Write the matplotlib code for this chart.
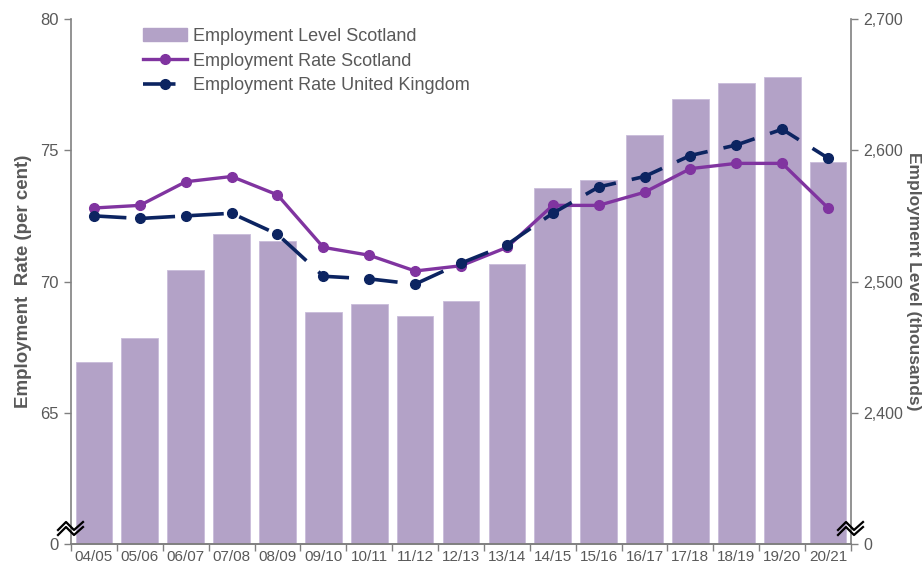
import matplotlib
matplotlib.use("Agg")
import matplotlib.pyplot as plt
from matplotlib.lines import Line2D
from matplotlib.patches import Patch
import numpy as np

plt.rcParams['font.family'] = ['Liberation Sans', 'DejaVu Sans']

years = ["04/05", "05/06", "06/07", "07/08", "08/09", "09/10", "10/11", "11/12", "12/13",
         "13/14", "14/15", "15/16", "16/17", "17/18", "18/19", "19/20", "20/21"]
level_scotland = [2439, 2457, 2509, 2536, 2531, 2477, 2483, 2474, 2485,
                  2513, 2571, 2577, 2612, 2639, 2651, 2656, 2591]
rate_scotland = [72.8, 72.9, 73.8, 74.0, 73.3, 71.3, 71.0, 70.4, 70.6,
                 71.3, 72.9, 72.9, 73.4, 74.3, 74.5, 74.5, 72.8]
rate_uk = [72.5, 72.4, 72.5, 72.6, 71.8, 70.2, 70.1, 69.9, 70.7,
           71.4, 72.6, 73.6, 74.0, 74.8, 75.2, 75.8, 74.7]

left_ticks = [60, 65, 70, 75, 80]
left_ticklabels = ["0", "65", "70", "75", "80"]
right_ticks = [2300, 2400, 2500, 2600, 2700]
right_ticklabels = ["0", "2,400", "2,500", "2,600", "2,700"]

bar_color = "#B3A2C7"
scot_color = "#8034A0"
uk_color = "#0C2461"
text_color = "#595959"
spine_color = "#808080"

fig = plt.figure(figsize=(9.24, 5.68), dpi=100)
axL = fig.add_axes([71/924, 1-544/568, (851-71)/924, (544-19)/568])
axR = axL.twinx()

x = np.arange(len(years))
axR.bar(x, np.array(level_scotland) - 2300, bottom=2300, width=0.8, color=bar_color,
        edgecolor="#C9BCDA", linewidth=0.6)
axL.plot(x, rate_scotland, color=scot_color, lw=2.4, marker="o", ms=7, zorder=3)
axL.plot(x, rate_uk, color=uk_color, lw=2.6, marker="o", ms=7, dashes=(9, 4.5), zorder=4)

axL.set_zorder(2)
axR.set_zorder(1)
axL.patch.set_visible(False)

axL.set_xlim(-0.5, len(years) - 0.5)
axL.set_ylim(60, 80)
axR.set_ylim(2300, 2700)

axL.set_yticks(left_ticks)
axL.set_yticklabels(left_ticklabels)
axR.set_yticks(right_ticks)
axR.set_yticklabels(right_ticklabels)

axL.set_xticks(x)
axL.set_xticklabels(years)
axL.set_xticks(np.arange(-0.5, len(years)), minor=True)
axL.tick_params(axis="x", which="major", length=0, pad=4, labelsize=11, labelcolor=text_color)
axL.tick_params(axis="x", which="minor", length=5, width=1, color=spine_color, direction="out")
axL.tick_params(axis="y", length=5, width=1, color=spine_color, labelsize=12,
                labelcolor=text_color, pad=4)
axR.tick_params(axis="y", length=5, width=1, color=spine_color, labelsize=11.5,
                labelcolor=text_color, pad=4)

for ax in (axL, axR):
    ax.spines["top"].set_visible(False)
    for s in ("left", "right", "bottom"):
        ax.spines[s].set_color(spine_color)
        ax.spines[s].set_linewidth(1.2)
axL.spines["right"].set_visible(False)
axR.spines["left"].set_visible(False)

axL.set_ylabel("Employment  Rate (per cent)", fontsize=13.5, fontweight="bold",
               color=text_color, labelpad=6)
fig.text(913/924, 1 - 281.5/568, "Employment Level (thousands)", fontsize=12.5,
         fontweight="bold", color=text_color, rotation=270, ha="center", va="center")

# axis break symbols
def add_break(ax, xfrac):
    base = ax.transAxes
    for dy in (0, -5):
        xs = np.array([-13, -5, 3, 12])
        ys = np.array([-2, 6, -2, 6]) + dy + 16
        disp = np.array([base.transform((xfrac, 0)) + np.array([xx, yy])
                         for xx, yy in zip(xs, ys)])
        fx, fy = fig.transFigure.inverted().transform(disp).T
        fig.add_artist(Line2D(fx, fy, color="black", lw=1.6, transform=fig.transFigure,
                              zorder=10, clip_on=False))

fig.canvas.draw()
add_break(axL, 0.0)
add_break(axL, 1.0)

handles = [Patch(facecolor=bar_color, edgecolor=bar_color),
           Line2D([], [], color=scot_color, lw=2.4, marker="o", ms=7),
           Line2D([], [], color=uk_color, lw=2.6, marker="o", ms=7, dashes=(9, 4.5))]
labels = ["Employment Level Scotland", "Employment Rate Scotland", "Employment Rate United Kingdom"]
leg = fig.legend(handles, labels, loc="upper left", bbox_to_anchor=(143/924, 1-28/568),
                 frameon=False, fontsize=13, labelcolor=text_color, handlelength=2.45,
                 handletextpad=0.33, labelspacing=0.42, borderpad=0, borderaxespad=0)

fig.savefig("out.png", dpi=100)
